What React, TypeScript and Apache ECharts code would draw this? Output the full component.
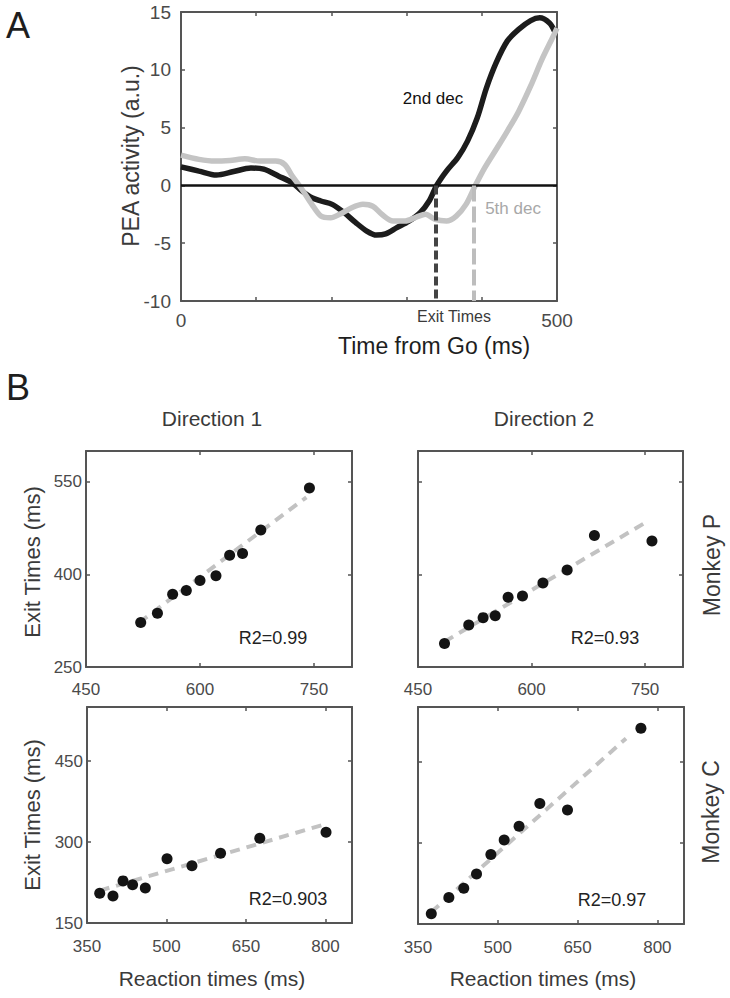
import React, { useEffect, useRef } from "react";
import * as echarts from "echarts";

// ---------- Panel A data ----------
const time2nd = [0, 24, 47, 70, 93, 110, 130, 148, 161, 174, 186, 201, 217, 232, 247, 260, 272, 287, 303, 318, 330, 340, 353, 368, 381, 394, 406, 419, 434, 449, 465, 477, 490, 497];
const pea2nd = [1.6, 1.24, 0.9, 1.2, 1.5, 1.4, 0.8, 0.23, -0.5, -1.07, -1.35, -1.64, -2.36, -3.2, -3.95, -4.3, -4.2, -3.66, -3.1, -2.36, -1.35, 0, 1.24, 2.4, 3.83, 5.85, 8.4, 10.6, 12.5, 13.5, 14.26, 14.5, 14.05, 13.3];
const time5th = [0, 24, 45, 65, 85, 105, 126, 138, 148, 161, 174, 186, 199, 211, 227, 242, 255, 267, 282, 298, 313, 325, 338, 353, 366, 379, 391, 404, 419, 434, 449, 465, 480, 495, 500];
const pea5th = [2.62, 2.25, 2.1, 2.16, 2.3, 2.1, 2.1, 1.8, 0.8, -0.35, -1.64, -2.65, -2.8, -2.5, -1.93, -1.64, -1.8, -2.5, -3.08, -3.08, -2.74, -2.5, -2.94, -3.08, -2.65, -1.64, -0.06, 1.53, 3.1, 4.7, 6.4, 8.6, 10.9, 12.9, 13.6];
const exitTimes = [339, 389];
const aXLabels = [0, 500];
const aYLabels = [-10, -5, 0, 5, 10, 15];

// ---------- Panel B data ----------
// Monkey P, Direction 1
const rtP1 = [522, 544, 564, 582, 600, 621, 639, 656, 680, 744];
const etP1 = [322, 337, 368, 374, 390, 398, 431, 434, 472, 540];
const fitP1X = [520, 740];
const fitP1Y = [322, 525];
// Monkey P, Direction 2
const rtP2 = [485, 517, 536, 552, 569, 588, 615, 647, 683, 759];
const etP2 = [288, 318, 330, 333, 363, 365, 386, 407, 463, 454];
const fitP2X = [485, 749];
const fitP2Y = [291, 483];
// Monkey C, Direction 1
const rtC1 = [374, 399, 418, 436, 460, 501, 548, 602, 676, 801];
const etC1 = [205, 200, 228, 221, 215, 269, 256, 279, 307, 318];
const fitC1X = [374, 796];
const fitC1Y = [210, 332];
// Monkey C, Direction 2
const rtC2 = [375, 408, 436, 460, 487, 512, 540, 579, 631, 769];
const etC2 = [169, 199, 216, 242, 278, 305, 330, 372, 360, 511];
const fitC2X = [375, 741];
const fitC2Y = [172, 492];

const r2Labels = ["R2=0.99", "R2=0.93", "R2=0.903", "R2=0.97"];
const xLabelsP = [450, 600, 750];
const yLabelsP = [250, 400, 550];
const xLabelsC = [350, 500, 650, 800];
const yLabelsC = [150, 300, 450];

const FONT = "'Liberation Sans', Arial, Helvetica, sans-serif";
const BOX = "#555555";
const TICKTXT = "#4a4a4a";
const TITLE = "#3a3a3a";

const zip = (xs: number[], ys: number[]) => xs.map((x, i) => [x, ys[i]]);

function makeAxes(
  grid: number,
  min: number,
  max: number,
  interval: number,
  labels: number[] | null,
  dir: "x" | "y",
  labelSize: number,
  margin: number
) {
  const common = {
    type: "value",
    gridIndex: grid,
    min,
    max,
    interval,
    splitLine: { show: false },
    axisLine: { show: true, onZero: false, lineStyle: { color: BOX, width: 2 } },
    axisTick: { show: true, inside: true, length: 4, lineStyle: { color: BOX, width: 1.5 } },
  };
  const primary = {
    ...common,
    position: dir === "x" ? "bottom" : "left",
    axisLabel: {
      show: !!labels,
      margin,
      color: TICKTXT,
      fontSize: labelSize,
      fontFamily: FONT,
      showMinLabel: true,
      showMaxLabel: true,
      formatter: (v: number) => (labels && labels.includes(Math.round(v)) ? String(Math.round(v)) : ""),
    },
  };
  const secondary = {
    ...common,
    position: dir === "x" ? "top" : "right",
    axisLabel: { show: false },
  };
  return [primary, secondary];
}

export default function App() {
  const ref = useRef<HTMLDivElement>(null);
  useEffect(() => {
    if (!ref.current) return;
    const chart = echarts.init(ref.current, undefined, { renderer: "svg" });

    const grids = [
      { left: 181, top: 12, width: 376, height: 289 },
      { left: 86, top: 451, width: 266, height: 216 },
      { left: 418, top: 451, width: 265, height: 216 },
      { left: 87, top: 707, width: 265, height: 216 },
      { left: 418, top: 707, width: 266, height: 217 },
    ].map((g) => ({ ...g, containLabel: false, outerBoundsMode: "none", show: false }));

    const xAxis = [
      ...makeAxes(0, 0, 500, 100, aXLabels, "x", 19, 10),
      ...makeAxes(1, 450, 800, 150, xLabelsP, "x", 17, 14),
      ...makeAxes(2, 450, 800, 150, xLabelsP, "x", 17, 14),
      ...makeAxes(3, 350, 850, 150, xLabelsC, "x", 17, 15),
      ...makeAxes(4, 350, 850, 150, xLabelsC, "x", 17, 15),
    ];
    const yAxis = [
      ...makeAxes(0, -10, 15, 5, aYLabels, "y", 19, 10),
      ...makeAxes(1, 250, 600, 150, yLabelsP, "y", 17, 4),
      ...makeAxes(2, 250, 600, 150, null, "y", 17, 4),
      ...makeAxes(3, 150, 550, 150, yLabelsC, "y", 17, 4),
      ...makeAxes(4, 150, 550, 150, null, "y", 17, 4),
    ];

    const scatterSets = [
      { rt: rtP1, et: etP1, fx: fitP1X, fy: fitP1Y },
      { rt: rtP2, et: etP2, fx: fitP2X, fy: fitP2Y },
      { rt: rtC1, et: etC1, fx: fitC1X, fy: fitC1Y },
      { rt: rtC2, et: etC2, fx: fitC2X, fy: fitC2Y },
    ];

    const bSeries: any[] = [];
    scatterSets.forEach((s, i) => {
      const ax = (i + 1) * 2;
      bSeries.push({
        type: "line",
        xAxisIndex: ax,
        yAxisIndex: ax,
        data: zip(s.fx, s.fy),
        showSymbol: false,
        symbol: "none",
        lineStyle: { color: "#c2c2c2", width: 4, type: [10, 7] },
        z: 2,
      });
      bSeries.push({
        type: "scatter",
        xAxisIndex: ax,
        yAxisIndex: ax,
        data: zip(s.rt, s.et),
        symbol: "circle",
        symbolSize: 11,
        itemStyle: { color: "#141414", opacity: 1 },
        z: 3,
      });
    });

    const txt = (
      text: string,
      x: number,
      y: number,
      size: number,
      color: string,
      rotation = 0
    ) => ({
      type: "text",
      x,
      y,
      rotation,
      style: {
        text,
        fontSize: size,
        fontFamily: FONT,
        fill: color,
        align: "center",
        verticalAlign: "middle",
      },
    });

    const R = Math.PI / 2;
    const graphic = [
      txt("A", 18, 25, 36, "#1e1e1e"),
      txt("B", 18, 387, 36, "#1e1e1e"),
      txt("PEA activity (a.u.)", 131, 156, 23, TITLE, R),
      txt("Time from Go (ms)", 434, 346, 23, "#1e1e1e"),
      txt("Exit Times", 454, 316, 16, "#3a3a3a"),
      txt("2nd dec", 433, 98, 17, "#111111"),
      txt("5th dec", 513, 208, 17, "#a8a8a8"),
      txt("Direction 1", 212, 418, 21, TITLE),
      txt("Direction 2", 544, 418, 21, TITLE),
      txt("Monkey P", 712, 565, 23, TITLE, R),
      txt("Monkey C", 711, 812, 23, TITLE, R),
      txt("Exit Times (ms)", 32, 562, 22, TITLE, R),
      txt("Exit Times (ms)", 32, 815, 22, TITLE, R),
      txt("Reaction times (ms)", 212, 978, 21, TITLE),
      txt("Reaction times (ms)", 543, 978, 21, TITLE),
      txt(r2Labels[0], 273, 638, 18, "#222222"),
      txt(r2Labels[1], 605, 638, 18, "#222222"),
      txt(r2Labels[2], 288, 899, 18, "#222222"),
      txt(r2Labels[3], 612, 900, 18, "#222222"),
    ];

    chart.setOption({
      animation: false,
      backgroundColor: "#ffffff",
      textStyle: { fontFamily: FONT },
      grid: grids,
      xAxis,
      yAxis,
      graphic,
      series: [
        {
          type: "line",
          xAxisIndex: 0,
          yAxisIndex: 0,
          data: zip(time2nd, pea2nd),
          smooth: 0.3,
          showSymbol: false,
          symbol: "none",
          lineStyle: { color: "#1c1c1c", width: 5.5 },
          z: 3,
          markLine: {
            silent: true,
            symbol: "none",
            label: { show: false },
            data: [
              [
                { coord: [0, 0], lineStyle: { color: "#111111", width: 2.5, type: "solid" } },
                { coord: [500, 0] },
              ],
              [
                { coord: [exitTimes[0], 0], lineStyle: { color: "#444444", width: 4, type: [9, 4] } },
                { coord: [exitTimes[0], -10] },
              ],
              [
                { coord: [exitTimes[1], 0], lineStyle: { color: "#bdbdbd", width: 4, type: [16, 5] } },
                { coord: [exitTimes[1], -10] },
              ],
            ],
          },
        },
        {
          type: "line",
          xAxisIndex: 0,
          yAxisIndex: 0,
          data: zip(time5th, pea5th),
          smooth: 0.3,
          showSymbol: false,
          symbol: "none",
          lineStyle: { color: "#c4c4c4", width: 5.5 },
          z: 4,
        },
        ...bSeries,
      ],
    });

    return () => chart.dispose();
  }, []);

  return (
    <div
      ref={ref}
      style={{ position: "fixed", left: 0, top: 0, width: 730, height: 998, background: "#fff" }}
    />
  );
}
